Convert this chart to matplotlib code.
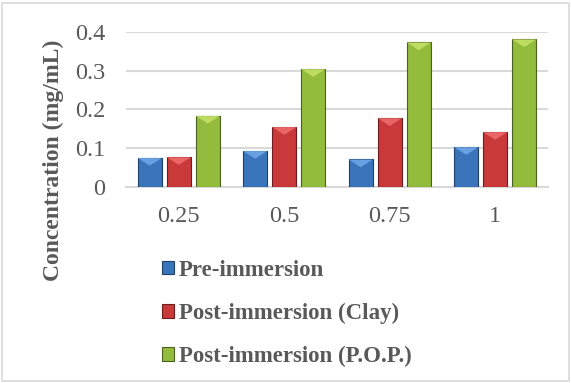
import matplotlib
matplotlib.use("Agg")
import matplotlib.pyplot as plt
import numpy as np
from matplotlib.patches import Rectangle, Polygon

categories = ["0.25", "0.5", "0.75", "1"]
series_names = ["Pre-immersion", "Post-immersion (Clay)", "Post-immersion (P.O.P.)"]
pre = [0.074, 0.092, 0.070, 0.102]
clay = [0.076, 0.154, 0.177, 0.141]
pop = [0.183, 0.304, 0.373, 0.381]
yticks = [0, 0.1, 0.2, 0.3, 0.4]
ytick_labels = ["0", "0.1", "0.2", "0.3", "0.4"]

colors = ["#3a74bb", "#c9393a", "#93bb3c"]
light = ["#6ea6e6", "#ee6a6a", "#c2e066"]
edges = ["#1f3f66", "#6e1c1c", "#4a6120"]

plt.rcParams["font.family"] = ["Liberation Serif", "DejaVu Serif"]
txt = "#595959"

fig = plt.figure(figsize=(5.71, 3.83), dpi=100)
ax = fig.add_axes([0.2207, 0.513, 0.739, 0.4034])

x = np.arange(len(categories))
width = 0.23
step = 0.275
handles = []
for i, (vals, name) in enumerate(zip([pre, clay, pop], series_names)):
    pos = x + (i - 1) * step
    bars = ax.bar(pos, vals, width, color=colors[i], edgecolor=edges[i],
                  linewidth=0.8, label=name, zorder=3)
    handles.append(bars)
    for b in bars:
        bx, bw, bh = b.get_x(), b.get_width(), b.get_height()
        tri_h = min(0.02, bh * 0.5)
        ax.add_patch(Polygon([[bx, bh], [bx + bw, bh], [bx + bw / 2, bh - tri_h]],
                             closed=True, facecolor=light[i], edgecolor="none",
                             zorder=4, alpha=0.9))

ax.set_xlim(-0.5, len(categories) - 0.5)
ax.set_ylim(0, 0.4)
ax.set_yticks(yticks)
ax.set_yticklabels(ytick_labels)
ax.set_xticks(x)
ax.set_xticklabels(categories)
ax.tick_params(axis="both", length=0, labelsize=17.5, labelcolor=txt)
ax.tick_params(axis="y", pad=15)
ax.tick_params(axis="x", pad=14)
ax.grid(axis="y", color="#d9d9d9", linewidth=1.5, zorder=0)
for s in ["top", "right", "left"]:
    ax.spines[s].set_visible(False)
ax.spines["bottom"].set_color("#d9d9d9")
ax.spines["bottom"].set_linewidth(1.5)

fig.text(53 / 571, 1 - 160.5 / 383, "Concentration (mg/mL)", rotation=90,
         ha="center", va="center", fontsize=17, fontweight="bold", color=txt)

leg = fig.legend(handles=handles, labels=series_names, loc="upper left",
                 bbox_to_anchor=(0.283, 0.322), frameon=False,
                 prop={"size": 16.5, "weight": "bold"},
                 handlelength=0.55, handleheight=0.55, handletextpad=0.2,
                 labelspacing=0.97, borderpad=0, borderaxespad=0)
for t in leg.get_texts():
    t.set_color(txt)

fig.patches.append(Rectangle((0.004, 0.004), 0.992, 0.988, transform=fig.transFigure,
                             fill=False, edgecolor="#d9d9d9", linewidth=1.2))

fig.savefig("out.png", dpi=100)
